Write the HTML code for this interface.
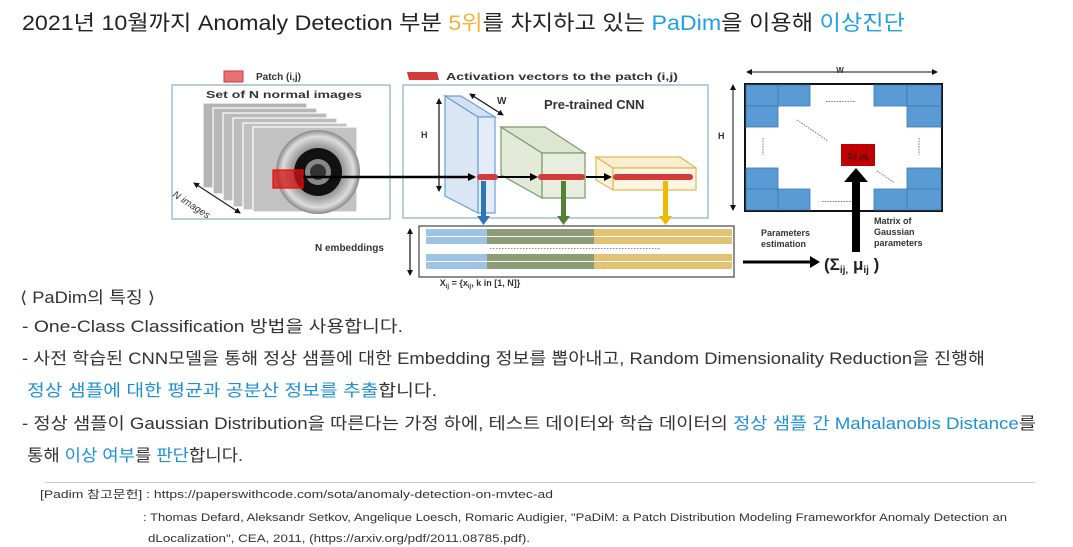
<!DOCTYPE html>
<html><head><meta charset="utf-8"><style>
html,body{margin:0;padding:0;background:#fff;width:1073px;height:547px;overflow:hidden}
svg{display:block}
text{font-family:"Liberation Sans","Noto Sans CJK KR",sans-serif}
</style></head><body>
<svg width="1073" height="547" viewBox="0 0 1073 547" xmlns="http://www.w3.org/2000/svg">
<defs>
<radialGradient id="disk" cx="0.5" cy="0.5" r="0.5">
<stop offset="0" stop-color="#eee"/><stop offset="0.6" stop-color="#9a9a9a"/><stop offset="0.85" stop-color="#ddd"/><stop offset="1" stop-color="#888"/>
</radialGradient>
<marker id="ah" markerWidth="8" markerHeight="8" refX="6" refY="4" orient="auto" markerUnits="userSpaceOnUse"><path d="M0,0 L8,4 L0,8 z" fill="#000"/></marker>
<marker id="ah2" markerWidth="6" markerHeight="6" refX="5" refY="3" orient="auto-start-reverse" markerUnits="userSpaceOnUse"><path d="M0,0 L6,3 L0,6 z" fill="#111"/></marker>
</defs>

<!-- title -->
<text x="22" y="30" font-size="21" fill="#222" textLength="883" lengthAdjust="spacingAndGlyphs">2021년 10월까지 Anomaly Detection 부분 <tspan fill="#f5b335">5위</tspan>를 차지하고 있는 <tspan fill="#1ea0e6">PaDim</tspan>을 이용해 <tspan fill="#1ea0e6">이상진단</tspan></text>

<!-- legend -->
<rect x="224" y="71" width="19" height="11" fill="#e57373" stroke="#d33" stroke-width="1"/>
<text x="256" y="80" font-size="10" font-weight="bold" fill="#333">Patch (i,j)</text>
<path d="M407,72 L437,72 L439,80 L409,80 z" fill="#d43a3a"/>
<text x="446" y="80" font-size="10" font-weight="bold" fill="#333" textLength="232" lengthAdjust="spacingAndGlyphs">Activation vectors to the patch (i,j)</text>

<!-- left box -->
<rect x="172" y="85" width="218" height="134" fill="#fff" stroke="#8aaccc" stroke-width="1.2"/>
<text x="206" y="98" font-size="10.5" font-weight="bold" fill="#333" textLength="156" lengthAdjust="spacingAndGlyphs">Set of N normal images</text>
<g stroke="#fff" stroke-width="1.2">
<rect x="203" y="103" width="104" height="85" fill="#b4b4b4"/>
<rect x="213" y="108" width="104" height="86" fill="#b8b8b8"/>
<rect x="223" y="113" width="104" height="88" fill="#bbb"/>
<rect x="233" y="118" width="104" height="89" fill="#bdbdbd"/>
<rect x="243" y="123" width="104" height="87" fill="#c0c0c0"/>
<rect x="253" y="127" width="104" height="85" fill="#c2c2c2"/>
</g>
<circle cx="318" cy="172" r="42" fill="url(#disk)"/>
<circle cx="318" cy="172" r="24" fill="#111"/>
<circle cx="318" cy="172" r="13" fill="#888"/>
<circle cx="318" cy="172" r="8" fill="#333"/>
<rect x="273" y="170" width="30" height="18" fill="rgba(210,20,20,0.75)" stroke="#f00" stroke-width="1.2"/>
<line x1="194" y1="183" x2="240" y2="213" stroke="#222" stroke-width="1.3" marker-start="url(#ah2)" marker-end="url(#ah2)"/>
<text x="172" y="196" font-size="10" font-style="italic" fill="#333" transform="rotate(33 172 196)">N images</text>

<!-- CNN box -->
<rect x="403" y="85" width="305" height="133" fill="#fff" stroke="#8aaccc" stroke-width="1.2"/>
<text x="544" y="109" font-size="13" font-weight="bold" fill="#333">Pre-trained CNN</text>
<line x1="439" y1="99" x2="439" y2="191" stroke="#111" stroke-width="1.2" marker-start="url(#ah2)" marker-end="url(#ah2)"/>
<text x="421" y="138" font-size="9" font-weight="bold" fill="#333">H</text>
<line x1="470" y1="94" x2="503" y2="115" stroke="#111" stroke-width="1.3" marker-start="url(#ah2)" marker-end="url(#ah2)"/>
<text x="497" y="104" font-size="10" font-weight="bold" fill="#333">W</text>
<!-- blue slab -->
<path d="M445,96 L478,117 L478,213 L445,196 z" fill="#dbe6f4" stroke="#6a9fd4" stroke-width="1.2"/>
<path d="M445,96 L461,96 L495,117 L478,117 z" fill="#d2e0f2" stroke="#6a9fd4" stroke-width="1.2"/>
<rect x="478" y="117" width="17" height="96" fill="#e3ecf8" stroke="#6a9fd4" stroke-width="1.2"/>
<!-- green box -->
<path d="M501,127 L542,153 L542,198 L501,175 z" fill="#e3ead8" stroke="#7a9a66" stroke-width="1.2"/>
<path d="M501,127 L545,127 L585,153 L542,153 z" fill="#dde6d0" stroke="#7a9a66" stroke-width="1.2"/>
<rect x="542" y="153" width="43" height="45" fill="#e8eedf" stroke="#7a9a66" stroke-width="1.2"/>
<!-- yellow box -->
<path d="M596,157 L613,168 L613,190 L596,180 z" fill="#fbf2da" stroke="#e0b850" stroke-width="1.2"/>
<path d="M596,157 L680,157 L696,168 L613,168 z" fill="#f9eed0" stroke="#e0b850" stroke-width="1.2"/>
<rect x="613" y="168" width="83" height="22" fill="#fdf5e2" stroke="#e0b850" stroke-width="1.2"/>
<!-- arrows -->
<line x1="303" y1="177" x2="474" y2="177" stroke="#000" stroke-width="2.5" marker-end="url(#ah)"/>
<line x1="497" y1="177" x2="536" y2="177" stroke="#000" stroke-width="2" marker-end="url(#ah)"/>
<line x1="586" y1="177" x2="610" y2="177" stroke="#000" stroke-width="2" marker-end="url(#ah)"/>
<rect x="477" y="174" width="21" height="6" rx="3" fill="#d43a3a"/>
<rect x="538" y="174" width="47" height="6" rx="3" fill="#d43a3a"/>
<rect x="613" y="174" width="80" height="6" rx="3" fill="#d43a3a"/>
<!-- down arrows -->
<rect x="481" y="181" width="5" height="36" fill="#2e75b6"/><path d="M477,216 L490,216 L483.5,225 z" fill="#2e75b6"/>
<rect x="561" y="181" width="5" height="36" fill="#548235"/><path d="M557,216 L570,216 L563.5,225 z" fill="#548235"/>
<rect x="663" y="181" width="5" height="36" fill="#f0b800"/><path d="M659,216 L672,216 L665.5,225 z" fill="#f0b800"/>

<!-- embeddings -->
<rect x="419" y="226" width="315" height="51" fill="#fff" stroke="#444" stroke-width="1.2"/>
<g>
<rect x="426" y="229" width="61" height="7" fill="#9dc3e6"/><rect x="487" y="229" width="107" height="7" fill="#8c9c74"/><rect x="594" y="229" width="138" height="7" fill="#e3c373"/>
<rect x="426" y="237" width="61" height="7" fill="#9dc3e6"/><rect x="487" y="237" width="107" height="7" fill="#8c9c74"/><rect x="594" y="237" width="138" height="7" fill="#e3c373"/>
<rect x="426" y="254" width="61" height="7" fill="#9dc3e6"/><rect x="487" y="254" width="107" height="7" fill="#8c9c74"/><rect x="594" y="254" width="138" height="7" fill="#e3c373"/>
<rect x="426" y="262" width="61" height="7" fill="#9dc3e6"/><rect x="487" y="262" width="107" height="7" fill="#8c9c74"/><rect x="594" y="262" width="138" height="7" fill="#e3c373"/>
</g>
<line x1="490" y1="248.5" x2="660" y2="248.5" stroke="#888" stroke-width="1" stroke-dasharray="1.5,1.5"/>
<line x1="410" y1="229" x2="410" y2="275" stroke="#111" stroke-width="1.2" marker-start="url(#ah2)" marker-end="url(#ah2)"/>
<text x="315" y="251" font-size="10" font-weight="bold" fill="#333">N embeddings</text>
<text x="480" y="286" font-size="9" font-weight="bold" fill="#333" text-anchor="middle">X<tspan font-size="6" dy="2">ij</tspan><tspan dy="-2"> = {x</tspan><tspan font-size="6" dy="2">ij</tspan><tspan dy="-2">, k in [1, N]}</tspan></text>

<!-- matrix -->
<line x1="747" y1="72" x2="937" y2="72" stroke="#111" stroke-width="1" marker-start="url(#ah2)" marker-end="url(#ah2)"/>
<text x="840" y="73" font-size="8" font-weight="bold" fill="#333" text-anchor="middle">W</text>
<line x1="733" y1="85" x2="733" y2="210" stroke="#111" stroke-width="1" marker-start="url(#ah2)" marker-end="url(#ah2)"/>
<text x="718" y="139" font-size="9" font-weight="bold" fill="#333">H</text>
<rect x="745" y="84" width="197" height="127" fill="#fff" stroke="#111" stroke-width="2"/>
<g fill="#5b9bd5" stroke="#3a78b0" stroke-width="0.8">
<rect x="746" y="85" width="32" height="21"/><rect x="778" y="85" width="32" height="21"/><rect x="746" y="106" width="32" height="21"/>
<rect x="874" y="85" width="33" height="21"/><rect x="907" y="85" width="34" height="21"/><rect x="907" y="106" width="34" height="21"/>
<rect x="746" y="168" width="32" height="21"/><rect x="746" y="189" width="32" height="21"/><rect x="778" y="189" width="32" height="21"/>
<rect x="907" y="168" width="34" height="21"/><rect x="907" y="189" width="34" height="21"/><rect x="874" y="189" width="33" height="21"/>
</g>
<g stroke="#777" stroke-width="1" stroke-dasharray="1.5,1.2">
<line x1="826" y1="101.5" x2="856" y2="101.5"/><line x1="822" y1="201.5" x2="852" y2="201.5"/>
<line x1="763" y1="138" x2="763" y2="155"/><line x1="919" y1="138" x2="919" y2="155"/>
<line x1="797" y1="120" x2="828" y2="141"/><line x1="877" y1="171" x2="895" y2="183"/>
</g>
<rect x="841" y="144" width="34" height="22" fill="#c00000"/>
<text x="858" y="159" font-size="8" font-weight="bold" fill="#400" text-anchor="middle">Σij μij</text>
<rect x="852" y="180" width="8" height="72" fill="#000"/>
<path d="M844,182 L868,182 L856,168 z" fill="#000"/>
<text x="874" y="224" font-size="9" font-weight="bold" fill="#333">Matrix of</text>
<text x="874" y="235" font-size="9" font-weight="bold" fill="#333">Gaussian</text>
<text x="874" y="246" font-size="9" font-weight="bold" fill="#333">parameters</text>
<text x="761" y="236" font-size="9" font-weight="bold" fill="#333">Parameters</text>
<text x="761" y="247" font-size="9" font-weight="bold" fill="#333">estimation</text>
<line x1="743" y1="262" x2="812" y2="262" stroke="#000" stroke-width="3"/>
<path d="M810,256 L820,262 L810,268 z" fill="#000"/>
<text x="824" y="270" font-size="17" font-weight="bold" fill="#222">(Σ<tspan font-size="10" dy="3">ij,</tspan><tspan dy="-3">  μ</tspan><tspan font-size="10" dy="3">ij</tspan><tspan dy="-3"> )</tspan></text>

<!-- body text -->
<g font-size="16.5" fill="#333">
<text x="20" y="303" textLength="135" lengthAdjust="spacingAndGlyphs">⟨ PaDim의 특징 ⟩</text>
<text x="22" y="332" textLength="381" lengthAdjust="spacingAndGlyphs">- One-Class Classification 방법을 사용합니다.</text>
<text x="22" y="364" textLength="963" lengthAdjust="spacingAndGlyphs">- 사전 학습된 CNN모델을 통해 정상 샘플에 대한 Embedding 정보를 뽑아내고, Random Dimensionality Reduction을 진행해</text>
<text x="27" y="396" textLength="410" lengthAdjust="spacingAndGlyphs"><tspan fill="#1e90d8">정상 샘플에 대한 평균과 공분산 정보를 추출</tspan>합니다.</text>
<text x="22" y="429" textLength="1014" lengthAdjust="spacingAndGlyphs">- 정상 샘플이 Gaussian Distribution을 따른다는 가정 하에, 테스트 데이터와 학습 데이터의 <tspan fill="#1e90d8">정상 샘플 간 Mahalanobis Distance</tspan>를</text>
<text x="27" y="461" textLength="216" lengthAdjust="spacingAndGlyphs">통해 <tspan fill="#1e90d8">이상 여부</tspan>를 <tspan fill="#1e90d8">판단</tspan>합니다.</text>
</g>

<line x1="45" y1="482.5" x2="1035" y2="482.5" stroke="#ccc" stroke-width="1"/>
<g font-size="11" fill="#333">
<text x="40" y="498" textLength="513" lengthAdjust="spacingAndGlyphs">[Padim 참고문헌]  : https://paperswithcode.com/sota/anomaly-detection-on-mvtec-ad</text>
<text x="143" y="521" textLength="864" lengthAdjust="spacingAndGlyphs">: Thomas Defard, Aleksandr Setkov, Angelique Loesch, Romaric Audigier, "PaDiM: a Patch Distribution Modeling Frameworkfor Anomaly Detection an</text>
<text x="148" y="542" textLength="382" lengthAdjust="spacingAndGlyphs">dLocalization", CEA, 2011, (https://arxiv.org/pdf/2011.08785.pdf).</text>
</g>
</svg>
</body></html>
